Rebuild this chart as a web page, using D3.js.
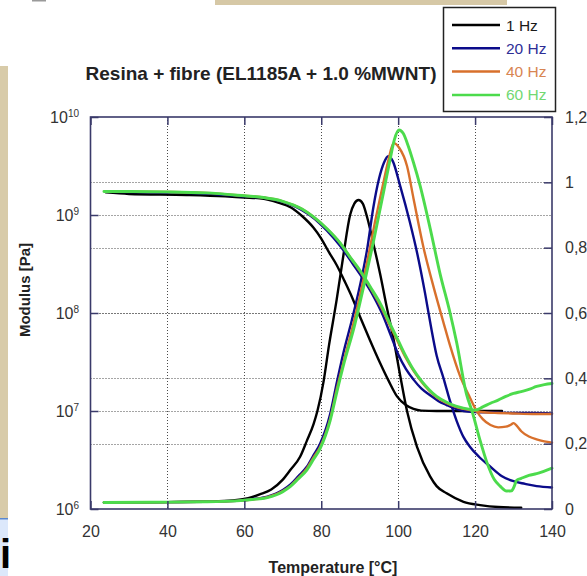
<!DOCTYPE html>
<html>
<head>
<meta charset="utf-8">
<script src="https://cdn.jsdelivr.net/npm/d3@7"></script>
<style>
  html, body { margin: 0; padding: 0; background: #ffffff; }
  svg { display: block; }
  text { font-family: "Liberation Sans", Arial, sans-serif; }
</style>
</head>
<body>
<svg id="chart" width="587" height="576"></svg>
<script>
// ---- Data: temperature [°C] and storage modulus [Pa] ----
const mod1HzT  = [24, 30, 45, 55, 60, 64, 69, 72, 75, 78, 80, 82, 84, 86, 88, 90, 92.7, 95.3, 97.5, 99.7, 102, 104, 106, 110, 127];
const mod1HzPa = [1.70e9, 1.64e9, 1.60e9, 1.55e9, 1.51e9, 1.48e9, 1.33e9, 1.20e9, 9.77e8, 7.41e8, 5.75e8, 4.17e8, 3.09e8, 2.14e8, 1.45e8, 9.33e7, 5.25e7, 3.09e7, 2.04e7, 1.41e7, 1.15e7, 1.05e7, 1.01e7, 1.00e7, 1.00e7];

const mod20HzT  = [24, 40, 50, 60, 65, 70, 75, 78, 81.5, 85, 88.4, 91, 93.6, 96, 98, 100, 102, 104, 106, 108.3, 110.5, 112.6, 115, 117, 120, 125, 130, 135, 140];
const mod20HzPa = [1.72e9, 1.70e9, 1.66e9, 1.55e9, 1.50e9, 1.36e9, 1.12e9, 9.33e8, 6.92e8, 4.79e8, 3.09e8, 2.19e8, 1.48e8, 9.55e7, 6.03e7, 3.80e7, 2.69e7, 2.09e7, 1.70e7, 1.45e7, 1.26e7, 1.15e7, 1.05e7, 1.00e7, 9.77e6, 9.66e6, 9.55e6, 9.55e6, 9.44e6];

const mod40HzT  = [24, 40, 50, 60, 65, 70, 75, 78, 81.5, 85, 87.5, 90, 92.7, 95.3, 98, 100, 102, 104, 106, 108, 110, 112.6, 115, 117, 120, 123, 126, 130, 135, 140];
const mod40HzPa = [1.74e9, 1.72e9, 1.68e9, 1.57e9, 1.51e9, 1.38e9, 1.15e9, 9.55e8, 7.24e8, 5.13e8, 3.72e8, 2.69e8, 1.82e8, 1.20e8, 7.24e7, 5.01e7, 3.47e7, 2.57e7, 2.00e7, 1.62e7, 1.38e7, 1.20e7, 1.10e7, 1.05e7, 1.00e7, 9.66e6, 9.55e6, 9.44e6, 9.33e6, 9.33e6];

const mod60HzT  = [23.5, 40, 50, 60, 65, 70, 75, 78, 81.5, 85, 87.5, 90, 92.7, 95.3, 98, 100, 102, 104, 106, 108, 110, 112.6, 115, 117, 120, 122, 124, 126, 128, 130, 132, 134, 136, 138, 140];
const mod60HzPa = [1.74e9, 1.72e9, 1.68e9, 1.57e9, 1.51e9, 1.38e9, 1.15e9, 9.55e8, 7.24e8, 5.13e8, 3.72e8, 2.75e8, 1.86e8, 1.26e8, 7.59e7, 5.25e7, 3.63e7, 2.63e7, 2.04e7, 1.66e7, 1.41e7, 1.23e7, 1.12e7, 1.07e7, 1.02e7, 1.10e7, 1.20e7, 1.29e7, 1.41e7, 1.51e7, 1.58e7, 1.66e7, 1.78e7, 1.86e7, 1.91e7];

// ---- Data: temperature [°C] and loss factor tan δ (right axis) ----
const tan1HzT = [23.5, 40, 50, 57, 61, 64, 67, 70, 72, 74.5, 76.3, 78, 79, 80.6, 82, 84, 85.8, 87.5, 88.6, 89.7, 90.8, 92, 93.6, 95.3, 97, 98.8, 100.5, 102.3, 104.9, 108.3, 110, 112.6, 117, 121.3, 126, 132];
const tan1Hz  = [0.02, 0.021, 0.023, 0.026, 0.033, 0.045, 0.06, 0.09, 0.12, 0.16, 0.21, 0.26, 0.30, 0.39, 0.50, 0.64, 0.78, 0.90, 0.935, 0.946, 0.935, 0.89, 0.81, 0.72, 0.62, 0.52, 0.41, 0.30, 0.19, 0.10, 0.07, 0.048, 0.022, 0.012, 0.006, 0.004];

const tan20HzT = [23.5, 40, 50, 58, 62, 66, 70, 72, 74, 76.3, 78, 79.7, 82.3, 84.1, 85.8, 88, 90, 92, 93.5, 95, 96.3, 97.4, 98.6, 100.5, 103, 105, 107, 108.5, 110, 111.8, 113.5, 115.2, 117, 118.7, 121, 123.9, 127, 130, 133, 136, 140];
const tan20Hz  = [0.02, 0.021, 0.022, 0.025, 0.03, 0.038, 0.058, 0.075, 0.10, 0.13, 0.165, 0.20, 0.29, 0.39, 0.48, 0.58, 0.68, 0.80, 0.92, 1.01, 1.06, 1.08, 1.065, 0.99, 0.88, 0.78, 0.66, 0.56, 0.47, 0.40, 0.33, 0.27, 0.22, 0.19, 0.16, 0.13, 0.10, 0.085, 0.077, 0.07, 0.066];

const tan40HzT = [23.5, 40, 50, 58, 62, 66, 70, 72, 74, 76.3, 78, 79.7, 82.3, 84.1, 86, 88, 90, 92, 94, 96, 97.5, 98.8, 100.3, 102.3, 104, 106.6, 109.2, 111.8, 113.5, 116, 118.7, 120.4, 122, 124, 126, 128, 129.3, 130, 130.8, 132, 134, 136, 138, 140];
const tan40Hz  = [0.02, 0.021, 0.022, 0.025, 0.029, 0.036, 0.055, 0.071, 0.095, 0.125, 0.158, 0.19, 0.275, 0.37, 0.46, 0.55, 0.65, 0.76, 0.88, 0.99, 1.07, 1.12, 1.105, 1.05, 0.95, 0.80, 0.68, 0.57, 0.50, 0.41, 0.34, 0.30, 0.275, 0.257, 0.25, 0.252, 0.258, 0.263, 0.255, 0.238, 0.222, 0.213, 0.207, 0.203];

const tan60HzT = [23.5, 40, 50, 58, 62, 66, 70, 72, 74, 76.3, 78, 79.7, 82.3, 84.1, 86, 88.4, 91, 93.6, 96.2, 97.9, 99, 100.2, 101.3, 102.5, 104, 105.7, 108.3, 110.9, 113.5, 115.2, 117.8, 119.2, 121.3, 123, 125, 126.5, 128.2, 129.5, 130.2, 130.8, 132, 134, 136, 138, 140];
const tan60Hz  = [0.02, 0.021, 0.022, 0.025, 0.029, 0.035, 0.053, 0.069, 0.092, 0.12, 0.152, 0.185, 0.27, 0.36, 0.45, 0.55, 0.68, 0.82, 0.97, 1.07, 1.13, 1.16, 1.15, 1.115, 1.06, 0.99, 0.86, 0.72, 0.60, 0.51, 0.35, 0.30, 0.21, 0.145, 0.09, 0.07, 0.055, 0.056, 0.07, 0.088, 0.094, 0.103, 0.108, 0.116, 0.125];

// ---- Axis ticks and labels ----
const xTicks = [20, 40, 60, 80, 100, 120, 140];
const modulusTicks = [1e6, 1e7, 1e8, 1e9, 1e10];
const tanTicks = [0, 0.2, 0.4, 0.6, 0.8, 1.0, 1.2];
const tanTickLabels = ["0", "0,2", "0,4", "0,6", "0,8", "1", "1,2"];

const seriesNames = ["1 Hz", "20 Hz", "40 Hz", "60 Hz"];
const lineColors  = ["#000000", "#0b0b8a", "#d8702c", "#4cdb4c"];
const legendTextColors = ["#1a1a1a", "#2e2e96", "#d88552", "#72d872"];

const titleText = "Resina + fibre (EL1185A + 1.0 %MWNT)";

// ---- Layout ----
const svg = d3.select("#chart");
const plot = { left: 90.5, right: 552, top: 117, bottom: 509 };

// Background strips around the figure
svg.append("rect").attr("x", 0).attr("y", 66).attr("width", 8).attr("height", 452).attr("fill", "#d8cba9");
svg.append("rect").attr("x", 215).attr("y", 0).attr("width", 292).attr("height", 5).attr("fill", "#d6c8a6");
svg.append("rect").attr("x", 32).attr("y", 0).attr("width", 14).attr("height", 1.5).attr("fill", "#9a9a9a");
svg.append("rect").attr("x", 0).attr("y", 518).attr("width", 8).attr("height", 58).attr("fill", "#dce8fb");
svg.append("rect").attr("x", 0).attr("y", 518).attr("width", 8).attr("height", 1.5).attr("fill", "#5a88d0");
svg.append("text").attr("x", 0).attr("y", 568).attr("font-size", 40).attr("font-weight", "bold")
  .attr("fill", "#000").text("i");

const x = d3.scaleLinear().domain([20, 140]).range([plot.left, plot.right]);
const yMod = d3.scaleLog().domain([1e6, 1e10]).range([plot.bottom, plot.top]);
const yTan = d3.scaleLinear().domain([0, 1.2]).range([plot.bottom, plot.top]);

// Plot background
svg.append("rect")
  .attr("x", plot.left).attr("y", plot.top)
  .attr("width", plot.right - plot.left).attr("height", plot.bottom - plot.top)
  .attr("fill", "#ffffff");

// Dotted grid
const grid = svg.append("g").attr("stroke", "#4a4a4a").attr("stroke-width", 1).attr("stroke-dasharray", "1,2");
grid.selectAll("line.v").data(xTicks.slice(1, -1)).join("line")
  .attr("x1", d => Math.round(x(d)) + 0.5).attr("x2", d => Math.round(x(d)) + 0.5)
  .attr("y1", plot.top).attr("y2", plot.bottom);
grid.selectAll("line.hm").data(modulusTicks.slice(1, -1)).join("line")
  .attr("class", "hm")
  .attr("x1", plot.left).attr("x2", plot.right)
  .attr("y1", d => Math.round(yMod(d)) + 0.5).attr("y2", d => Math.round(yMod(d)) + 0.5);
grid.selectAll("line.ht").data(tanTicks.slice(1, -1)).join("line")
  .attr("class", "ht")
  .attr("x1", plot.left).attr("x2", plot.right)
  .attr("y1", d => Math.round(yTan(d)) + 0.5).attr("y2", d => Math.round(yTan(d)) + 0.5);

// Curves
const modLine = d3.line().x(d => x(d[0])).y(d => yMod(d[1])).curve(d3.curveMonotoneX);
const tanLine = d3.line().x(d => x(d[0])).y(d => yTan(d[1])).curve(d3.curveMonotoneX);

const modSeries = [[mod1HzT, mod1HzPa], [mod20HzT, mod20HzPa], [mod40HzT, mod40HzPa], [mod60HzT, mod60HzPa]];
const tanSeries = [[tan1HzT, tan1Hz], [tan20HzT, tan20Hz], [tan40HzT, tan40Hz], [tan60HzT, tan60Hz]];
const widths = [2.4, 2.4, 2.4, 2.9];

const curves = svg.append("g").attr("fill", "none").attr("stroke-linejoin", "round").attr("stroke-linecap", "round");
for (let i = 0; i < 4; i++) {
  const m = d3.zip(modSeries[i][0], modSeries[i][1]);
  const t = d3.zip(tanSeries[i][0], tanSeries[i][1]);
  curves.append("path").attr("d", modLine(m)).attr("stroke", lineColors[i]).attr("stroke-width", widths[i]);
  curves.append("path").attr("d", tanLine(t)).attr("stroke", lineColors[i]).attr("stroke-width", widths[i]);
}

// Axes
const axisColor = "#3a3a6a";
const labelColor = "#333333";

const xAxisB = d3.axisBottom(x).tickValues(xTicks).tickSize(-8).tickPadding(17).tickFormat(d3.format("d"));
const gB = svg.append("g").attr("transform", `translate(0,${plot.bottom})`).call(xAxisB);
const xAxisT = d3.axisTop(x).tickValues(xTicks).tickSize(-8).tickFormat("");
const gT = svg.append("g").attr("transform", `translate(0,${plot.top})`).call(xAxisT);

const yAxisL = d3.axisLeft(yMod).tickValues(modulusTicks).tickSize(-8).tickPadding(11.5).tickFormat("");
const gL = svg.append("g").attr("transform", `translate(${plot.left},0)`).call(yAxisL);
const yAxisR = d3.axisRight(yTan).tickValues(tanTicks).tickSize(-8).tickPadding(13)
  .tickFormat((d, i) => tanTickLabels[i]);
const gR = svg.append("g").attr("transform", `translate(${plot.right},0)`).call(yAxisR);

[gB, gT, gL, gR].forEach(g => {
  g.select(".domain").remove();
  g.selectAll(".tick line").attr("stroke", axisColor).attr("stroke-width", 1.5);
  g.selectAll("text").attr("fill", labelColor).attr("font-size", 16)
    .attr("font-family", "'Liberation Sans', Arial, sans-serif");
});

// Powers of ten on the modulus axis
gL.selectAll(".tick text").each(function(d) {
  const t = d3.select(this);
  t.text("10");
  t.append("tspan").attr("dy", "-0.55em").attr("font-size", 10).text(Math.round(Math.log10(d)));
});

// Frame
svg.append("rect")
  .attr("x", plot.left).attr("y", plot.top)
  .attr("width", plot.right - plot.left).attr("height", plot.bottom - plot.top)
  .attr("fill", "none").attr("stroke", axisColor).attr("stroke-width", 1.6);

// Title and axis titles
svg.append("text").attr("x", 261).attr("y", 80).attr("text-anchor", "middle")
  .attr("font-size", 19).attr("font-weight", "bold").attr("fill", "#222").text(titleText);
svg.append("text").attr("x", 333).attr("y", 573).attr("text-anchor", "middle")
  .attr("font-size", 16).attr("font-weight", "bold").attr("fill", "#222").text("Temperature [°C]");
svg.append("text").attr("transform", "translate(30,290) rotate(-90)").attr("text-anchor", "middle")
  .attr("font-size", 15).attr("font-weight", "bold").attr("fill", "#222").text("Modulus [Pa]");

// Legend
const legend = svg.append("g");
legend.append("rect").attr("x", 443.5).attr("y", 7.5).attr("width", 112).attr("height", 104)
  .attr("fill", "#fff").attr("stroke", "#222").attr("stroke-width", 1.5);
const rows = legend.selectAll("g.row").data(seriesNames).join("g")
  .attr("transform", (d, i) => `translate(0,${25 + i * 23.3})`);
rows.append("line").attr("x1", 452).attr("x2", 500).attr("y1", 0).attr("y2", 0)
  .attr("stroke", (d, i) => lineColors[i]).attr("stroke-width", 2.5);
rows.append("text").attr("x", 506).attr("y", 5.5).attr("font-size", 15.5)
  .attr("fill", (d, i) => legendTextColors[i]).text(d => d);
</script>
</body>
</html>
